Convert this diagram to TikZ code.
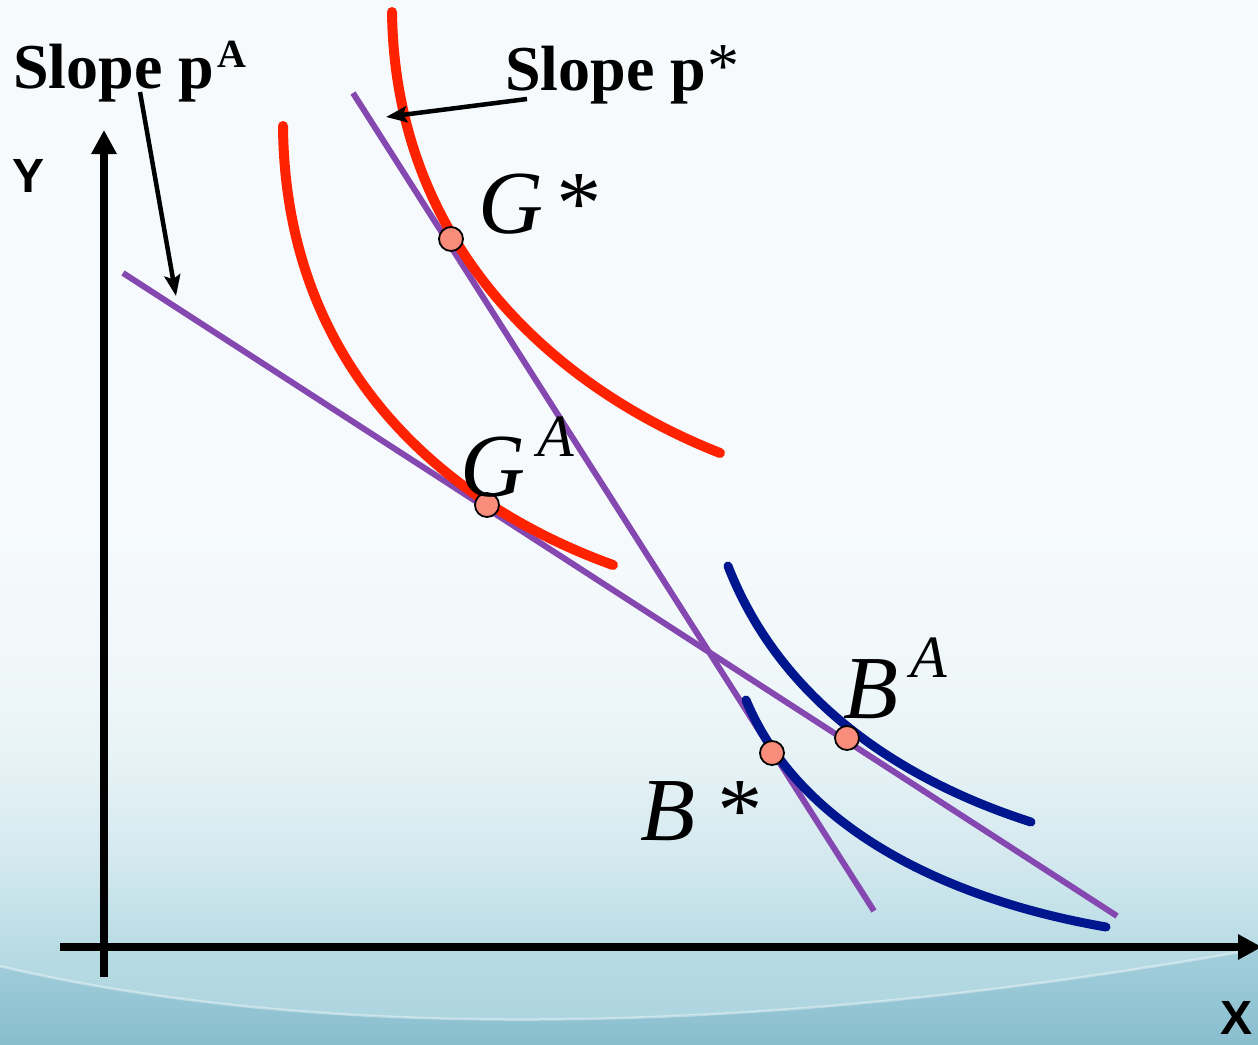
\documentclass[tikz,border=0pt]{standalone}
\usepackage{fontspec}
\setmainfont{Liberation Serif}
\newfontfamily\axisfont{Liberation Sans}
\usetikzlibrary{arrows.meta}
\definecolor{curvered}{HTML}{FF2200}
\definecolor{curveblue}{HTML}{00168F}
\definecolor{lineviolet}{HTML}{8548B0}
\definecolor{dotfill}{HTML}{FA8C7C}
\definecolor{bgA}{HTML}{A9D3DE}
\definecolor{bgB}{HTML}{B8DBE4}
\definecolor{bgC}{HTML}{D4E9EF}
\definecolor{bgD}{HTML}{E8F3F6}
\definecolor{bgF}{HTML}{F1F8FA}
\definecolor{bgE}{HTML}{F6FAFC}
\definecolor{swA}{HTML}{88BDCE}
\definecolor{swB}{HTML}{A3CFDB}
\pgfdeclareverticalshading{bgshade}{100bp}{color(0bp)=(bgA); color(25bp)=(bgA); color(29.5bp)=(bgB); color(34bp)=(bgC); color(39bp)=(bgD); color(44bp)=(bgF); color(50bp)=(bgE); color(100bp)=(bgE)}
\pgfdeclareverticalshading{swshade}{100bp}{color(0bp)=(swA); color(25bp)=(swA); color(75bp)=(swB); color(100bp)=(swB)}
\tikzset{
  axis/.style={line width=7.5pt, -{Triangle[length=24pt,width=24pt]}},
  pointer/.style={line width=4.5pt, -{Stealth[length=21pt,width=16pt,inset=4pt]}},
  budget/.style={line width=6pt, lineviolet},
  redcurve/.style={line width=10pt, curvered, line cap=round},
  bluecurve/.style={line width=9pt, curveblue, line cap=round},
  dot/.style={circle, minimum size=24pt, inner sep=0pt, fill=dotfill, draw=black, line width=1.8pt},
  axislabel/.style={font=\axisfont\bfseries\fontsize{48}{48}\selectfont, inner sep=0pt},
  slopelab/.style={font=\bfseries\fontsize{64}{64}\selectfont, inner sep=0pt, anchor=base west},
  eqlab/.style={font=\itshape\fontsize{90}{90}\selectfont, inner sep=0pt, anchor=base west}
}
\begin{document}
\begin{tikzpicture}[x=1pt,y=-1pt]
\useasboundingbox (0,0) rectangle (1258,1044);
\clip (0,0) rectangle (1258,1044);
\shade[shading=bgshade] (0,0) rectangle (1258,1044);
\shade[shading=swshade] (-5,965) .. controls (330,1045) and (780,1035) .. (1262,948) -- (1262,1050) -- (-5,1050) -- cycle;
\draw[white, opacity=0.4, line width=2.5pt] (-5,965) .. controls (330,1045) and (780,1035) .. (1262,948);

% axes
\coordinate (yaxB) at (104,977);
\coordinate (yaxT) at (104,130);
\coordinate (xaxL) at (60,947);
\coordinate (xaxR) at (1262,947);
\draw[axis] (yaxB) -- (yaxT);
\draw[axis] (xaxL) -- (xaxR);
\node[axislabel] (ylab) at (29,176) {Y};
\node[axislabel] (xlab) at (1236,1018) {X};

% budget lines
\coordinate (pAstart) at (123,273);
\coordinate (pAend) at (1117,916);
\coordinate (pSstart) at (353,93);
\coordinate (pSend) at (874,911);
\draw[budget] (pAstart) -- (pAend);
\draw[budget] (pSstart) -- (pSend);

% indifference curves
\draw[redcurve] (392,12) .. controls (395,250) and (560,390) .. (720,453);
\draw[redcurve] (283,126) .. controls (285,380) and (460,510) .. (613,565);
\draw[bluecurve] (728,566) .. controls (780,700) and (900,780) .. (1031,822);
\draw[bluecurve] (746,700) .. controls (800,830) and (950,900) .. (1106,927);

% points
\node[dot] (gstar) at (451,239) {};
\node[dot] (gA) at (487,505) {};
\node[dot] (bstar) at (772,753) {};
\node[dot] (bA) at (847,738) {};

% labels
\node[slopelab] (slopeA) at (13,88) {Slope p\kern3pt\raisebox{21pt}{\fontsize{40}{40}\selectfont A}};
\node[slopelab] (slopeS) at (505,90) {Slope p\kern1pt\raisebox{3pt}{\mdseries *}};
\coordinate (slopeAtail) at (140,92);
\coordinate (slopeAtip) at (176,296);
\coordinate (slopeStail) at (527,99);
\coordinate (slopeStip) at (386,117);
\draw[pointer] (slopeAtail) -- (slopeAtip);
\draw[pointer] (slopeStail) -- (slopeStip);

\node[eqlab] (gstarlab) at (478,233) {G\kern9pt*};
\node[eqlab] (gAlab) at (460,496) {G\kern12pt\raisebox{40pt}{\fontsize{60}{60}\selectfont A}};
\node[eqlab] (bAlab) at (843,718) {B\kern12pt\raisebox{41pt}{\fontsize{60}{60}\selectfont A}};
\node[eqlab] (bstarlab) at (640,840) {B\kern18pt*};
\end{tikzpicture}
\end{document}
